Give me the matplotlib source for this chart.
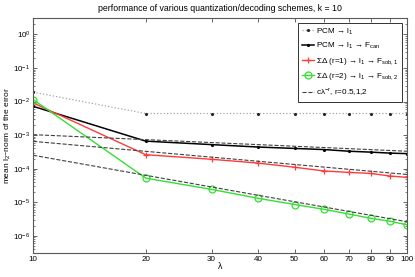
import matplotlib
matplotlib.use('Agg')
import matplotlib.pyplot as plt
from matplotlib.ticker import FixedLocator, NullLocator, LogLocator

plt.rcParams['font.family'] = ['Liberation Sans', 'DejaVu Sans']
plt.rcParams['mathtext.default'] = 'regular'

lam = [10, 20, 30, 40, 50, 60, 70, 80, 90, 100]
pcm_l1 = [1.9e-2, 4.4e-3, 4.4e-3, 4.4e-3, 4.4e-3, 4.4e-3, 4.4e-3, 4.4e-3,
          4.4e-3, 4.4e-3]
pcm_can = [7.2e-3, 6.6e-4, 5.2e-4, 4.4e-4, 4.0e-4, 3.7e-4, 3.3e-4, 3.1e-4,
           2.9e-4, 2.8e-4]
sd1_sob = [9.1e-3, 2.6e-4, 1.9e-4, 1.46e-4, 1.1e-4, 8.5e-5, 7.7e-5, 7.2e-5,
           6.0e-5, 5.5e-5]
sd2_sob = [1.14e-2, 5.2e-5, 2.4e-5, 1.3e-5, 8.5e-6, 6.1e-6, 4.4e-6, 3.3e-6,
           2.7e-6, 2.1e-6]

# reference lines c*lambda^-r, read at both ends
ref_x = [10, 100]
ref_r05 = [1.03e-3, 3.3e-4]
ref_r1 = [6.5e-4, 6.7e-5]
ref_r2 = [2.5e-4, 2.6e-6]

xlabels = ['10', '20', '30', '40', '50', '60', '70', '80', '90', '100']
yticks = [1e-6, 1e-5, 1e-4, 1e-3, 1e-2, 1e-1, 1e0]
ylabels = ['$10^{-6}$', '$10^{-5}$', '$10^{-4}$', '$10^{-3}$', '$10^{-2}$',
           '$10^{-1}$', '$10^{0}$']

fig = plt.figure(figsize=(4.15, 2.77), dpi=100)
ax = fig.add_axes([0.08, 0.085, 0.901, 0.851])

ax.plot(lam, pcm_l1, ':', color='0.65', lw=0.9, marker='.', ms=2.5,
        mfc='0.15', mec='0.15', label=r'PCM → l$_1$')
ax.plot(lam, pcm_can, '-', color='k', lw=1.1, marker='.', ms=2.5,
        label=r'PCM → l$_1$ → F$_{can}$')
ax.plot(lam, sd1_sob, '-', color='#ff3a3a', lw=1.0, marker='+', ms=5,
        mew=0.9, label=r'ΣΔ (r=1) → l$_1$ → F$_{sob,1}$')
ax.plot(lam, sd2_sob, '-', color='#33e033', lw=1.0, marker='o', ms=5,
        mfc='none', mew=0.9, label=r'ΣΔ (r=2) → l$_1$ → F$_{sob,2}$')
ax.plot(ref_x, ref_r05, '--', color='0.25', lw=0.8,
        label=r'cλ$^{-r}$, r=0.5,1,2')
ax.plot(ref_x, ref_r1, '--', color='0.25', lw=0.8)
ax.plot(ref_x, ref_r2, '--', color='0.25', lw=0.8)

ax.set_xscale('log')
ax.set_yscale('log')
ax.set_xlim(10, 100)
ax.set_ylim(10 ** -6.53, 10 ** 0.5)

ax.xaxis.set_major_locator(FixedLocator(lam))
ax.set_xticklabels(xlabels)
ax.xaxis.set_minor_locator(NullLocator())
ax.yaxis.set_major_locator(FixedLocator(yticks))
ax.set_yticklabels(ylabels)
ax.yaxis.set_minor_locator(LogLocator(base=10, subs=range(2, 10), numticks=20))

ax.tick_params(which='both', direction='in', top=True, right=True,
               labelsize=5.8, colors='0.3', labelcolor='k', pad=2)
ax.tick_params(which='major', length=3, width=0.6)
ax.tick_params(which='minor', length=1.6, width=0.5)
for s in ax.spines.values():
    s.set_color('0.35')
    s.set_linewidth(0.8)

ax.set_title('performance of various quantization/decoding schemes, k = 10',
             fontsize=6.3, pad=5)
ax.set_xlabel('λ', fontsize=6.3, labelpad=-1)
ax.set_ylabel(r'mean l$_2$–norm of the error', fontsize=6, labelpad=0)

leg = ax.legend(loc='upper right', fontsize=5.9, frameon=True, fancybox=False,
                edgecolor='0.2', framealpha=1, handlelength=1.4,
                handletextpad=0.3, borderaxespad=0.6, labelspacing=0.55,
                borderpad=0.45, numpoints=1)
leg.get_frame().set_linewidth(0.7)

fig.savefig('out.png', dpi=100)
